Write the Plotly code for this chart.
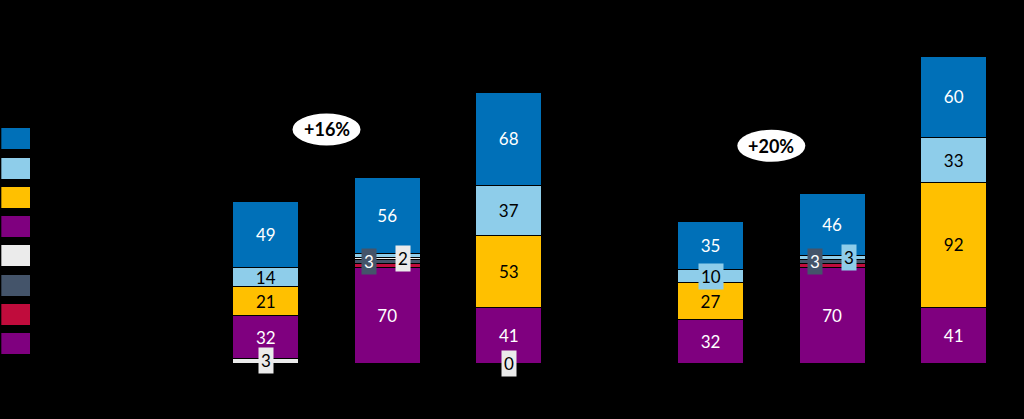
import plotly.graph_objects as go

# Kategorie (podpisy osi w oryginale nie są widoczne)
kategorie_1 = ["A1", "A2", "A3"]
kategorie_2 = ["B1", "B2", "B3"]

# Wartości serii dla 6 słupków (3 w pierwszej grupie, 3 w drugiej)
niebieski = [49, 56, 68, 35, 46, 60]
jasnoniebieski = [14, 3, 37, 10, 3, 33]
zolty = [21, 0, 53, 27, 0, 92]
fioletowy_a = [32, 0, 41, 32, 0, 41]
bialy = [3, 2, 0, 0, 0, 0]
grafitowy = [0, 3, 0, 0, 3, 0]
karminowy = [0, 3, 0, 0, 3, 0]
fioletowy_b = [0, 70, 0, 0, 70, 0]

wzrost = ["+16%", "+20%"]

FONT = "Lato"

# Kolejność od dołu stosu: (nazwa, dane, kolor, kolor tekstu)
serie = [
    ("Seria 8", fioletowy_b, "#7F007F", "white"),
    ("Seria 7", karminowy, "#C00C3C", "white"),
    ("Seria 6", grafitowy, "#44546A", "white"),
    ("Seria 5", bialy, "#EBEBEB", "black"),
    ("Seria 4", fioletowy_a, "#7F007F", "white"),
    ("Seria 3", zolty, "#FFC000", "black"),
    ("Seria 2", jasnoniebieski, "#8ECDEA", "black"),
    ("Seria 1", niebieski, "#0070B8", "white"),
]

# Etykiety małych segmentów w ramkach: (nazwa serii, nr słupka, przesunięcie w px)
ramki = [
    ("Seria 5", 0, 0),
    ("Seria 6", 1, -18),
    ("Seria 5", 1, 16),
    ("Seria 5", 2, 0),
    ("Seria 2", 3, 0),
    ("Seria 6", 4, -17),
    ("Seria 2", 4, 17),
]
z_ramka = {(n, i) for n, i, _ in ramki}

grupy = [(kategorie_1, "x", 0), (kategorie_2, "x2", 3)]

fig = go.Figure()

for nazwa, dane, kolor, kolor_tekstu in serie:
    for kategorie, os_x, start in grupy:
        wartosci = dane[start:start + 3]
        teksty = [
            "" if (v < 12 or (nazwa, start + j) in z_ramka) else str(v)
            for j, v in enumerate(wartosci)
        ]
        fig.add_trace(go.Bar(
            x=kategorie,
            y=wartosci,
            name=nazwa,
            width=0.543,
            marker=dict(color=kolor, line=dict(color="black", width=1)),
            text=teksty,
            textposition="inside",
            insidetextanchor="middle",
            textangle=0,
            constraintext="none",
            textfont=dict(color=kolor_tekstu, size=17, family=FONT),
            xaxis=os_x,
            yaxis="y",
            showlegend=False,
        ))

# Legenda jako prostokąty kolorów po lewej stronie
legenda = list(reversed(serie))
fig.add_trace(go.Bar(
    y=[s[0] for s in legenda],
    x=[1] * len(legenda),
    orientation="h",
    width=0.717,
    marker=dict(color=[s[2] for s in legenda], line=dict(width=0)),
    xaxis="x3",
    yaxis="y3",
    showlegend=False,
    hoverinfo="y",
))

# Ramki z etykietami dla cienkich segmentów
slownik = {s[0]: s for s in serie}
kolejnosc = [s[0] for s in serie]
for nazwa, i, przes in ramki:
    _, dane, kolor, kolor_tekstu = slownik[nazwa]
    dol = sum(slownik[n][1][i] for n in kolejnosc[:kolejnosc.index(nazwa)])
    kategorie, os_x, start = grupy[0] if i < 3 else grupy[1]
    fig.add_annotation(
        x=kategorie[i - start], y=dol + dane[i] / 2,
        xref=os_x, yref="y",
        text=str(dane[i]), showarrow=False,
        xshift=przes, yanchor="middle",
        bgcolor=kolor, borderpad=2,
        font=dict(color=kolor_tekstu, size=17, family=FONT),
    )

# Owale z przyrostem między pierwszym a drugim słupkiem grupy
for (kategorie, os_x, start), tekst in zip(grupy, wzrost):
    suma = sum(s[1][start + 1] for s in serie)
    fig.add_shape(
        type="circle", xref=os_x, yref="y",
        xsizemode="pixel", ysizemode="pixel",
        xanchor=0.5, yanchor=suma + 35,
        x0=-34, x1=34, y0=-16, y1=16,
        fillcolor="white", line=dict(width=0),
    )
    fig.add_annotation(
        x=0.5, y=suma + 35, xref=os_x, yref="y",
        text=f"<b>{tekst}</b>", showarrow=False,
        font=dict(color="black", size=18, family=FONT),
    )

os_kat = dict(showticklabels=False, showgrid=False, zeroline=False,
              showline=False, ticks="", range=[-0.5, 2.5], anchor="y")

fig.update_layout(
    width=1024,
    height=419,
    barmode="stack",
    paper_bgcolor="black",
    plot_bgcolor="black",
    margin=dict(l=0, r=0, t=10, b=56, pad=0),
    xaxis=dict(domain=[0.2002, 0.5562], **os_kat),
    xaxis2=dict(domain=[0.6345, 0.9907], **os_kat),
    yaxis=dict(range=[0, 260], visible=False, anchor="x"),
    xaxis3=dict(domain=[0.0013, 0.0293], range=[0, 1], visible=False, anchor="y3"),
    yaxis3=dict(domain=[0.0129, 0.6766], range=[7.5, -0.5], visible=False, anchor="x3"),
    uniformtext=dict(minsize=17, mode="show"),
    font=dict(family=FONT),
)

fig.write_html(
    "out.html",
    config={"displayModeBar": False},
    post_script="document.body.style.margin='0';"
                "document.body.style.background='black';"
                "document.body.style.overflow='hidden';",
)
